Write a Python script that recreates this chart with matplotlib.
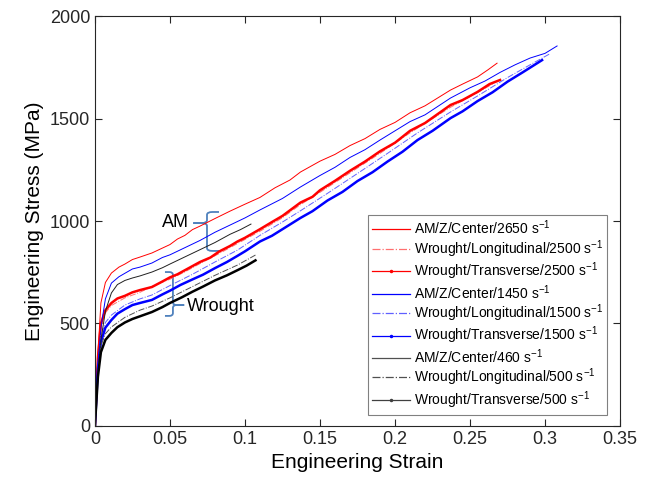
import numpy as np
import matplotlib
matplotlib.use("Agg")
import matplotlib.pyplot as plt
from matplotlib.path import Path
from matplotlib.patches import PathPatch
from matplotlib.lines import Line2D

plt.rcParams['font.family'] = ['Liberation Sans', 'DejaVu Sans']
plt.rcParams['mathtext.default'] = 'regular'

# strain / stress (MPa)
am_2650_x = [0, 0.002, 0.004, 0.007, 0.011, 0.016, 0.02, 0.025, 0.03, 0.038, 0.045, 0.05, 0.055, 0.06, 0.065, 0.07,
             0.08, 0.09, 0.10, 0.11, 0.12, 0.13, 0.137, 0.15, 0.16, 0.17, 0.18, 0.19, 0.20, 0.21, 0.22, 0.237,
             0.245, 0.255, 0.262, 0.268]
am_2650_y = [0, 350, 600, 700, 746, 775, 790, 812, 824, 844, 868, 885, 912, 930, 958, 975,
             1012, 1048, 1082, 1115, 1162, 1200, 1239, 1292, 1325, 1368, 1402, 1447, 1481, 1528, 1562, 1639,
             1668, 1703, 1738, 1770]

wl_2500_x = [0, 0.002, 0.004, 0.007, 0.011, 0.02, 0.03, 0.04, 0.05, 0.06, 0.07, 0.083, 0.095, 0.11, 0.125,
             0.137, 0.15, 0.17, 0.19, 0.21, 0.237, 0.252, 0.266]
wl_2500_y = [0, 320, 485, 552, 588, 625, 652, 688, 716, 752, 792, 842, 890, 950, 1016,
             1080, 1140, 1235, 1330, 1430, 1555, 1615, 1672]

wt_2500_x = [0, 0.002, 0.004, 0.007, 0.011, 0.015, 0.02, 0.025, 0.03, 0.038, 0.045, 0.05, 0.055, 0.06, 0.07,
             0.077, 0.083, 0.09, 0.095, 0.10, 0.11, 0.118, 0.125, 0.137, 0.145, 0.15, 0.16, 0.17, 0.18, 0.19,
             0.20, 0.21, 0.22, 0.237, 0.245, 0.255, 0.263, 0.27]
wt_2500_y = [0, 330, 500, 565, 600, 622, 635, 652, 663, 678, 705, 725, 740, 760, 800,
             822, 852, 878, 900, 918, 960, 995, 1025, 1090, 1118, 1150, 1196, 1245, 1290, 1340,
             1382, 1440, 1478, 1566, 1590, 1630, 1668, 1688]

am_1450_x = [0, 0.002, 0.004, 0.007, 0.011, 0.016, 0.02, 0.025, 0.03, 0.038, 0.045, 0.05, 0.06, 0.07, 0.08,
             0.09, 0.10, 0.11, 0.125, 0.137, 0.15, 0.16, 0.17, 0.18, 0.19, 0.20, 0.21, 0.22, 0.237, 0.25,
             0.26, 0.27, 0.28, 0.29, 0.30, 0.308]
am_1450_y = [0, 280, 480, 620, 697, 728, 745, 766, 775, 795, 822, 835, 870, 905, 945,
             980, 1015, 1054, 1110, 1166, 1222, 1262, 1310, 1348, 1395, 1440, 1485, 1518, 1600, 1650,
             1683, 1725, 1762, 1795, 1818, 1854]

wl_1500_x = [0, 0.002, 0.004, 0.007, 0.011, 0.02, 0.03, 0.038, 0.05, 0.065, 0.08, 0.095, 0.11, 0.125, 0.137,
             0.155, 0.175, 0.195, 0.215, 0.237, 0.255, 0.275, 0.29, 0.303]
wl_1500_y = [0, 300, 440, 505, 541, 590, 620, 639, 685, 740, 800, 858, 930, 995, 1050,
             1135, 1232, 1330, 1430, 1532, 1610, 1700, 1762, 1815]

wt_1500_x = [0, 0.002, 0.004, 0.007, 0.011, 0.015, 0.02, 0.025, 0.03, 0.038, 0.045, 0.05, 0.057, 0.065, 0.072,
             0.08, 0.088, 0.095, 0.10, 0.11, 0.118, 0.125, 0.137, 0.145, 0.155, 0.165, 0.175, 0.185, 0.195,
             0.205, 0.215, 0.225, 0.237, 0.245, 0.255, 0.265, 0.275, 0.285, 0.298]
wt_1500_y = [0, 280, 410, 480, 517, 548, 570, 590, 600, 615, 642, 660, 688, 715, 738,
             770, 800, 830, 852, 900, 928, 960, 1015, 1048, 1100, 1142, 1195, 1238, 1290,
             1338, 1395, 1440, 1502, 1535, 1585, 1628, 1680, 1725, 1785]

am_460_x = [0, 0.002, 0.004, 0.007, 0.011, 0.015, 0.02, 0.025, 0.03, 0.038, 0.045, 0.05, 0.06, 0.07, 0.08,
            0.09, 0.097, 0.104]
am_460_y = [0, 250, 420, 560, 649, 690, 710, 722, 732, 751, 772, 790, 825, 860, 895,
            935, 958, 985]

wl_500_x = [0, 0.002, 0.004, 0.007, 0.011, 0.02, 0.03, 0.038, 0.05, 0.065, 0.08, 0.095, 0.107]
wl_500_y = [0, 260, 390, 450, 483, 530, 565, 585, 625, 680, 735, 785, 834]

wt_500_x = [0, 0.002, 0.004, 0.007, 0.011, 0.015, 0.02, 0.025, 0.03, 0.038, 0.045, 0.05, 0.058, 0.065, 0.072,
            0.08, 0.088, 0.095, 0.101, 0.107]
wt_500_y = [0, 240, 360, 420, 454, 482, 505, 522, 535, 556, 580, 600, 628, 655, 680,
            710, 735, 760, 782, 808]

labels = ['AM/Z/Center/2650 s$^{-1}$', 'Wrought/Longitudinal/2500 s$^{-1}$', 'Wrought/Transverse/2500 s$^{-1}$',
          'AM/Z/Center/1450 s$^{-1}$', 'Wrought/Longitudinal/1500 s$^{-1}$', 'Wrought/Transverse/1500 s$^{-1}$',
          'AM/Z/Center/460 s$^{-1}$', 'Wrought/Longitudinal/500 s$^{-1}$', 'Wrought/Transverse/500 s$^{-1}$']

xticks = [0, 0.05, 0.1, 0.15, 0.2, 0.25, 0.3, 0.35]
xticklabels = ['0', '0.05', '0.1', '0.15', '0.2', '0.25', '0.3', '0.35']
yticks = [0, 500, 1000, 1500, 2000]


def brace(ax, xv, ytop, ybot, ytip, hook, tip, color):
    # curly bracket: vertical at xv, hooks end at x=hook, tip ends at x=tip
    s = np.sign(hook - xv)
    dx = abs(hook - xv) * 0.45
    for yend, sg in ((ytop, 1), (ybot, -1)):
        dy = 14 * sg
        verts = [(tip, ytip), (xv - s * dx, ytip), (xv, ytip), (xv, ytip + dy),
                 (xv, yend - dy), (xv, yend), (xv + s * dx, yend), (hook, yend)]
        codes = [Path.MOVETO, Path.LINETO, Path.CURVE3, Path.CURVE3,
                 Path.LINETO, Path.CURVE3, Path.CURVE3, Path.LINETO]
        ax.add_patch(PathPatch(Path(verts, codes), fc='none', ec=color, lw=1.3))


fig = plt.figure(figsize=(6.5, 4.86), dpi=100)
ax = fig.add_axes([0.146, 0.1235, 0.808, 0.8435])

thin = 0.7
red, lred = '#ff0000', '#ff7070'
blue, lblue = '#0000ff', '#6060ff'
black, grey = '#202020', '#505050'

ax.plot(am_2650_x, am_2650_y, '-', color=red, lw=thin)
ax.plot(wl_2500_x, wl_2500_y, '-.', color=lred, lw=thin)
ax.plot(wt_2500_x, wt_2500_y, '-', color=red, lw=1.8)
ax.plot(am_1450_x, am_1450_y, '-', color=blue, lw=thin)
ax.plot(wl_1500_x, wl_1500_y, '-.', color=lblue, lw=thin)
ax.plot(wt_1500_x, wt_1500_y, '-', color=blue, lw=1.8)
ax.plot(am_460_x, am_460_y, '-', color=black, lw=thin)
ax.plot(wl_500_x, wl_500_y, '-.', color=grey, lw=thin)
ax.plot(wt_500_x, wt_500_y, '-', color='black', lw=1.8)

# legend handles drawn thin, as in the original
handles = [
    Line2D([], [], color=red, lw=0.9),
    Line2D([], [], color=lred, lw=0.9, ls='-.'),
    Line2D([], [], color=red, lw=0.9, marker='.', ms=3),
    Line2D([], [], color=blue, lw=0.9),
    Line2D([], [], color=lblue, lw=0.9, ls='-.'),
    Line2D([], [], color=blue, lw=0.9, marker='.', ms=3),
    Line2D([], [], color=grey, lw=0.9),
    Line2D([], [], color=grey, lw=0.9, ls='-.'),
    Line2D([], [], color='#404040', lw=0.9, marker='.', ms=3),
]

# AM / Wrought brackets
bcol = '#4f81bd'
brace(ax, 0.0747, 1044, 854, 990, 0.0827, 0.0655, bcol)
ax.text(0.0535, 995, 'AM', fontsize=13, ha='center', va='center')
brace(ax, 0.052, 751, 537, 590, 0.0467, 0.0595, bcol)
ax.text(0.0615, 585, 'Wrought', fontsize=13, ha='left', va='center')

ax.set_xlim(0, 0.35)
ax.set_ylim(0, 2000)
ax.set_xticks(xticks)
ax.set_xticklabels(xticklabels)
ax.set_yticks(yticks)
ax.tick_params(direction='in', top=True, right=True, labelsize=13, length=5, width=0.8, colors='#262626')
for sp in ax.spines.values():
    sp.set_color('#262626')
    sp.set_linewidth(0.8)
ax.set_xlabel('Engineering Strain', fontsize=15)
ax.set_ylabel('Engineering Stress (MPa)', fontsize=15)

leg = ax.legend(handles, labels, loc='lower right', bbox_to_anchor=(0.976, 0.027), borderaxespad=0,
                fontsize=10, numpoints=1, handlelength=2.7, fancybox=False, framealpha=1,
                edgecolor='#808080', borderpad=0.3, labelspacing=0.06, handletextpad=0.3)
leg.get_frame().set_linewidth(0.8)

fig.savefig('out.png', dpi=100)
